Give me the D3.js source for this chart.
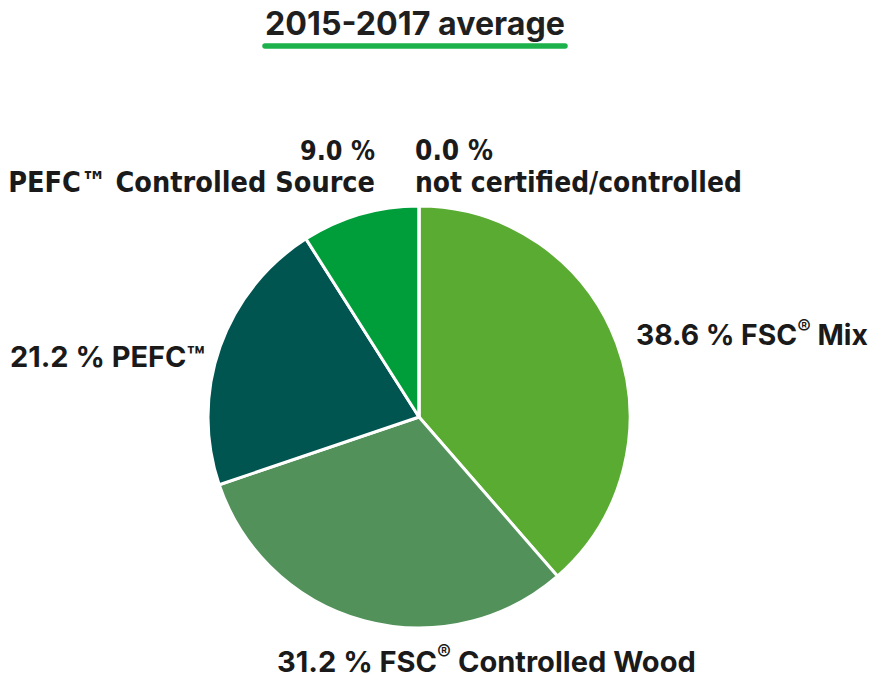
<!DOCTYPE html>
<html><head><meta charset="utf-8">
<script src="https://cdn.jsdelivr.net/npm/d3@7"></script>
<style>
html,body{margin:0;padding:0;background:#fff;}
svg{display:block;}
</style></head><body>
<svg id="chart" width="872" height="680"></svg>
<script>
const title = "2015-2017 average";
const categories = ["FSC® Mix", "FSC® Controlled Wood", "PEFC™", "PEFC™ Controlled Source", "not certified/controlled"];
const values = [38.6, 31.2, 21.2, 9.0, 0.0];
const colors = ["#5aab32", "#52925a", "#005550", "#009e3a", "#cccccc"];

const svg = d3.select("#chart");
const cx = 419, cy = 417, r = 211;
const wide = "Inter, 'Liberation Sans', Arial, sans-serif";
const narrow = "'Liberation Sans Narrow', 'DejaVu Sans Condensed', sans-serif";

function fitWidth(t, target) {
  const w = t.node().getBBox().width;
  const fs = +t.attr("font-size");
  if (w > 0) t.attr("font-size", fs * target / w);
  return t;
}

// Title
const tt = svg.append("text").attr("x", 415).attr("y", 35).attr("text-anchor", "middle")
  .attr("font-family", wide).attr("font-weight", 700)
  .attr("font-size", 30).attr("fill", "#1f1f1f").text(title);
fitWidth(tt, 300);
svg.append("line").attr("x1", 265).attr("x2", 565).attr("y1", 46).attr("y2", 46)
  .attr("stroke", "#1cb14a").attr("stroke-width", 5.5).attr("stroke-linecap", "round");

const pie = d3.pie().sort(null).value(d => d);
const arcs = pie(values);
const arc = d3.arc().innerRadius(0).outerRadius(r);
const g = svg.append("g").attr("transform", `translate(${cx},${cy})`);
g.selectAll("path").data(arcs).enter().append("path")
  .attr("d", arc).attr("fill", (d, i) => colors[i])
  .attr("stroke", "#fff").attr("stroke-width", 3).attr("stroke-linejoin", "round");

const fmt = d3.format(".1f");

function addLabel(x, y, anchor, str, size, family, weight, target) {
  const t = svg.append("text").attr("x", x).attr("y", y).attr("text-anchor", anchor)
    .attr("font-family", family).attr("font-weight", weight).attr("font-size", size).attr("fill", "#1a1a1a");
  const parts = str.split(/(®)/).filter(s => s.length);
  let raised = false;
  parts.forEach(p => {
    if (p === "®") {
      t.append("tspan").attr("font-size", "0.72em").attr("font-weight", 500).attr("dy", "-0.55em").text("®");
      raised = true;
    } else {
      const ts = t.append("tspan").text(p);
      if (raised) { ts.attr("dy", "0.4em"); raised = false; }
    }
  });
  if (target) {
    const w = t.node().getBBox().width;
    if (w > 0) t.attr("font-size", size * target / w);
  }
  return t;
}

// FSC Mix
addLabel(636, 345, "start", fmt(values[0]) + " % " + categories[0], 25, wide, 700, 232);
// FSC Controlled Wood
addLabel(277, 672, "start", fmt(values[1]) + " % " + categories[1], 25, wide, 700, 419);
// PEFC
addLabel(10, 367, "start", fmt(values[2]) + " % " + categories[2], 25, wide, 700, 195);
// PEFC Controlled Source (two lines, right aligned)
addLabel(375, 160, "end", fmt(values[3]) + " %", 28, narrow, 700, 75);
addLabel(375, 192, "end", categories[3], 28, narrow, 700, 367);
// not certified
addLabel(415, 160, "start", fmt(values[4]) + " %", 28, narrow, 700, 78);
addLabel(415, 192, "start", categories[4], 28, narrow, 700, 327);
</script>
</body></html>
